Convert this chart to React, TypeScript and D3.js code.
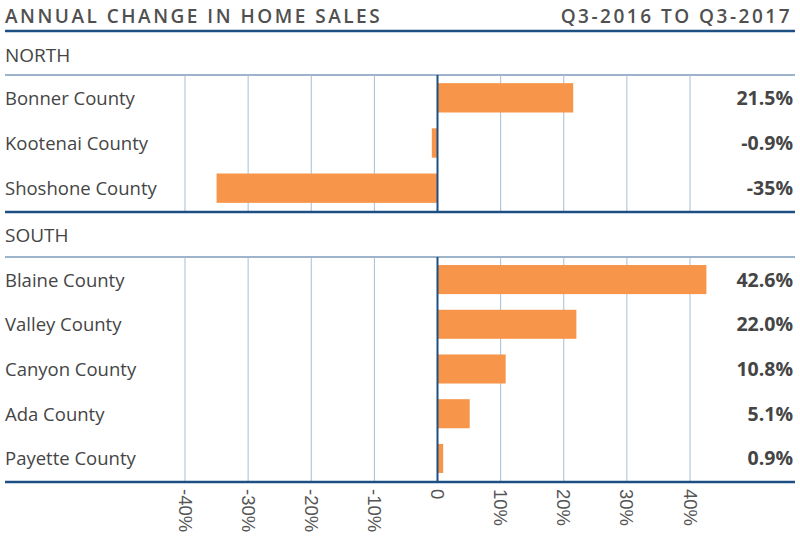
import { useEffect } from "react";
import * as d3 from "d3";

const northCounties = ["Bonner County", "Kootenai County", "Shoshone County"];
const northValues = [21.5, -0.9, -35];
const northLabels = ["21.5%", "-0.9%", "-35%"];

const southCounties = ["Blaine County", "Valley County", "Canyon County", "Ada County", "Payette County"];
const southValues = [42.6, 22.0, 10.8, 5.1, 0.9];
const southLabels = ["42.6%", "22.0%", "10.8%", "5.1%", "0.9%"];

const ticks = [-40, -30, -20, -10, 0, 10, 20, 30, 40];

const W = 800;
const H = 539;
const FONT = "'Open Sans', 'Noto Sans', sans-serif";
const DARK_BLUE = "#1d4f82";
const GRID = "#a8bdd3";
const BAR = "#f7964a";
const TEXT = "#454545";

type Section = {
  title: string;
  counties: string[];
  values: number[];
  labels: string[];
  titleY: number;
  top: number;
  bottom: number;
};

const sections: Section[] = [
  { title: "NORTH", counties: northCounties, values: northValues, labels: northLabels, titleY: 62, top: 75, bottom: 211 },
  { title: "SOUTH", counties: southCounties, values: southValues, labels: southLabels, titleY: 242, top: 257, bottom: 481 },
];

export default function App() {
  useEffect(() => {
    document.body.style.margin = "0";
  }, []);

  const x = d3.scaleLinear().domain([-40, 40]).range([185, 690]);

  return (
    <svg width={W} height={H} style={{ display: "block", background: "#fff" }} fontFamily={FONT}>
      {/* header */}
      <text x={5} y={23} fontSize={19} fontWeight={600} letterSpacing={2.5} fill="#505050">
        ANNUAL CHANGE IN HOME SALES
      </text>
      <text x={792} y={23} fontSize={19} fontWeight={600} letterSpacing={2.5} fill="#505050" textAnchor="end">
        Q3-2016 TO Q3-2017
      </text>
      <line x1={5} x2={795} y1={31} y2={31} stroke={DARK_BLUE} strokeWidth={2.5} />

      {sections.map((s) => {
        const y = d3
          .scaleBand<string>()
          .domain(s.counties)
          .range([s.top, s.bottom])
          .paddingInner(0.35)
          .paddingOuter(0.18);
        return (
          <g key={s.title}>
            <text x={5} y={s.titleY} fontSize={19} fill={TEXT}>{s.title}</text>
            <line x1={5} x2={795} y1={s.top} y2={s.top} stroke={DARK_BLUE} strokeWidth={1} opacity={0.85} />
            {ticks.filter((t) => t !== 0).map((t) => (
              <line key={t} x1={x(t)} x2={x(t)} y1={s.top} y2={s.bottom} stroke={GRID} strokeWidth={1} />
            ))}
            {s.counties.map((c, i) => {
              const v = s.values[i];
              const cy = (y(c) ?? 0) + y.bandwidth() / 2;
              return (
                <g key={c}>
                  <rect
                    x={Math.min(x(0), x(v))}
                    y={y(c)}
                    width={Math.abs(x(v) - x(0))}
                    height={y.bandwidth()}
                    fill={BAR}
                  />
                  <text x={5} y={cy + 7} fontSize={18.5} fill={TEXT}>{c}</text>
                  <text x={793} y={cy + 7} fontSize={19.5} fontWeight={700} fill={TEXT} textAnchor="end">
                    {s.labels[i]}
                  </text>
                </g>
              );
            })}
            <line x1={x(0)} x2={x(0)} y1={s.top} y2={s.bottom} stroke={DARK_BLUE} strokeWidth={2} />
            <line x1={5} x2={795} y1={s.bottom + 1} y2={s.bottom + 1} stroke={DARK_BLUE} strokeWidth={2.5} />
          </g>
        );
      })}

      {/* axis tick labels */}
      {ticks.map((t) => (
        <text
          key={t}
          transform={`translate(${x(t) - 6.5},489) rotate(90)`}
          fontSize={18.5}
          fontFamily="'Liberation Sans', Arial, sans-serif"
          fill="#555"
        >
          {t === 0 ? "0" : `${t}%`}
        </text>
      ))}
    </svg>
  );
}
